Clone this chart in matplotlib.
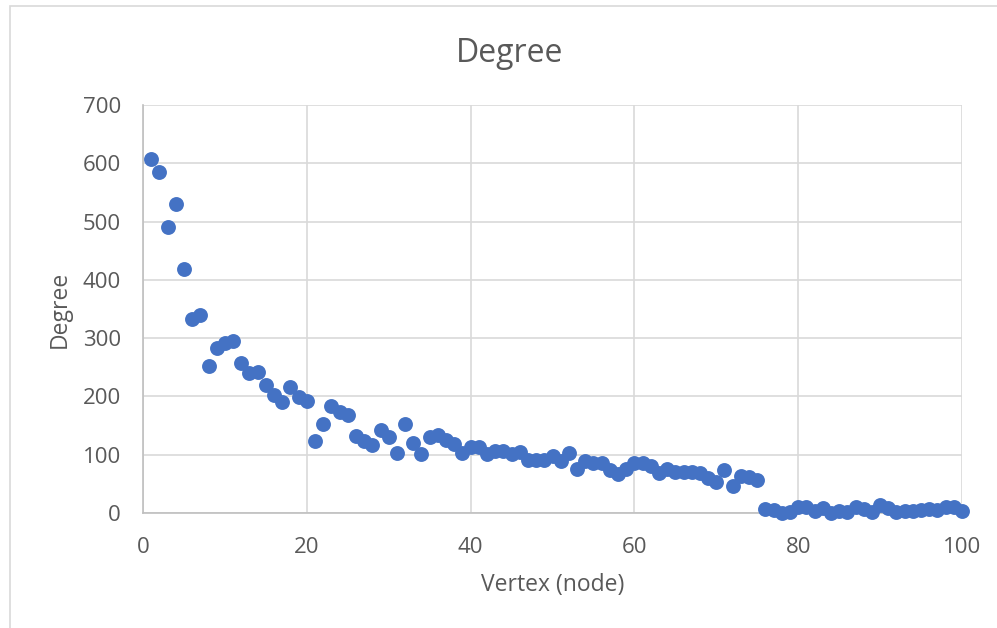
import matplotlib
matplotlib.use("Agg")
import matplotlib.pyplot as plt
from matplotlib.patches import Rectangle

vertices = list(range(1, 101))
degree = [608, 585, 490, 530, 418, 333, 340, 252, 283, 291,
          295, 257, 241, 242, 220, 202, 190, 216, 199, 193,
          124, 153, 184, 173, 168, 132, 124, 116, 143, 131,
          103, 153, 120, 102, 131, 133, 125, 118, 103, 113,
          113, 102, 107, 107, 102, 105, 91, 91, 91, 97,
          89, 103, 76, 90, 86, 85, 73, 67, 75, 86,
          86, 81, 69, 76, 71, 71, 71, 68, 60, 53,
          73, 47, 63, 61, 56, 7, 6, 0, 2, 11,
          10, 4, 9, 0, 3, 1, 11, 7, 1, 13,
          9, 1, 3, 4, 5, 7, 6, 11, 10, 3]
x_ticks = [0, 20, 40, 60, 80, 100]
y_ticks = [0, 100, 200, 300, 400, 500, 600, 700]

plt.rcParams['font.family'] = ['Open Sans', 'DejaVu Sans']
txt = '#595959'

fig = plt.figure(figsize=(9.97, 6.28), dpi=100)
ax = fig.add_axes([143/997, 1-513/628, (962-143)/997, (513-105)/628])

# outer chart border
fig.patches.append(Rectangle((10/997, -0.1), 1.2, 1 - 6/628 + 0.1, transform=fig.transFigure,
                             fill=False, edgecolor='#d9d9d9', linewidth=1.2))

ax.scatter(vertices, degree, s=115, color='#4472C4', zorder=3, linewidths=0, clip_on=False)
ax.set_xlim(0, 100)
ax.set_ylim(0, 700)
ax.set_xticks(x_ticks)
ax.set_yticks(y_ticks)
ax.grid(True, color='#d9d9d9', linewidth=1.2)
ax.set_axisbelow(True)
for s in ['top', 'right']:
    ax.spines[s].set_visible(False)
for s in ['left', 'bottom']:
    ax.spines[s].set_color('#bfbfbf')
    ax.spines[s].set_linewidth(1.2)
ax.tick_params(length=0, labelsize=16, colors=txt)
ax.tick_params(axis='y', pad=16)
ax.tick_params(axis='x', pad=17)
ax.set_xlabel('Vertex (node)', fontsize=16.5, color=txt, va='center')
ax.xaxis.set_label_coords(0.5, (513-585)/408)
ax.set_ylabel('Degree', fontsize=16.5, color=txt, va='center')
ax.yaxis.set_label_coords((60-143)/819, 0.5)
fig.text(510/997, 1-53/628, 'Degree', fontsize=23, color=txt, ha='center', va='center')

fig.savefig('out.png', dpi=100)
